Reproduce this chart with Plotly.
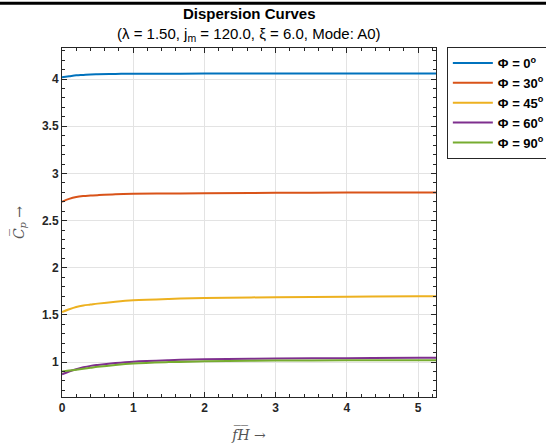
import plotly.graph_objects as go

fh = [0, 0.1, 0.2, 0.3, 0.4, 0.5, 0.75, 1.0, 1.5, 2.0, 3.0, 4.0, 5.0, 5.25]
cp_0 = [4.02, 4.03, 4.04, 4.045, 4.05, 4.052, 4.055, 4.057, 4.058, 4.059, 4.06, 4.06, 4.06, 4.06]
cp_30 = [2.70, 2.73, 2.75, 2.76, 2.765, 2.77, 2.78, 2.785, 2.788, 2.79, 2.795, 2.797, 2.798, 2.798]
cp_45 = [1.53, 1.56, 1.585, 1.60, 1.61, 1.62, 1.64, 1.655, 1.67, 1.68, 1.688, 1.693, 1.697, 1.698]
cp_60 = [0.87, 0.90, 0.925, 0.945, 0.96, 0.97, 0.99, 1.005, 1.02, 1.03, 1.038, 1.042, 1.045, 1.046]
cp_90 = [0.90, 0.91, 0.92, 0.93, 0.94, 0.95, 0.97, 0.985, 1.0, 1.01, 1.016, 1.019, 1.02, 1.02]
names = ["Φ = 0<sup>o</sup>", "Φ = 30<sup>o</sup>", "Φ = 45<sup>o</sup>", "Φ = 60<sup>o</sup>", "Φ = 90<sup>o</sup>"]
series = [cp_0, cp_30, cp_45, cp_60, cp_90]
colors = ["#0072BD", "#D95319", "#EDB120", "#7E2F8E", "#77AC30"]

fig = go.Figure()
for n, s, c in zip(names, series, colors):
    fig.add_trace(go.Scatter(x=fh, y=s, mode="lines", name=n,
                             line=dict(color=c, width=2, shape="spline")))

font = "Liberation Sans, Arial, sans-serif"
axis_common = dict(
    showline=True, linecolor="#262626", linewidth=1, mirror="allticks",
    ticks="inside", ticklen=5, tickcolor="#262626",
    showgrid=True, gridcolor="#E3E3E3", gridwidth=1, zeroline=False,
    tickfont=dict(family=font, size=12, color="#262626", weight="bold"),
)

fig.update_layout(
    width=546, height=443,
    margin=dict(l=62, r=110, t=48, b=46, autoexpand=False),
    paper_bgcolor="white", plot_bgcolor="white",
    xaxis=dict(range=[0, 5.25], dtick=1, minor=dict(dtick=0.2, ticks="inside", ticklen=3, tickcolor="#262626"),
               title=dict(text="<i>f̅H̅</i> →", font=dict(family="DejaVu Serif, serif", size=14, color="#555"), standoff=16),
               **axis_common),
    yaxis=dict(range=[0.63, 4.33], dtick=0.5, minor=dict(dtick=0.1, ticks="inside", ticklen=3, tickcolor="#262626"),
               title=dict(text="<i>C̅</i><sub><i>p</i></sub> →", font=dict(family="DejaVu Serif, serif", size=14, color="#555"), standoff=14),
               **axis_common),
    legend=dict(x=1.029, y=1.003, xanchor="left", yanchor="top",
                bordercolor="#262626", borderwidth=1, bgcolor="white",
                font=dict(family=font, size=13, color="black", weight="bold"),
                itemwidth=40, tracegroupgap=0),
    showlegend=True,
)
fig.add_annotation(text="<b>Dispersion Curves</b>", xref="paper", yref="paper",
                   x=0.5, y=(397 - 14) / 349, showarrow=False, yanchor="middle",
                   font=dict(family=font, size=15, color="black"))
fig.add_annotation(text="(λ = 1.50, j<sub>m</sub> = 120.0, ξ = 6.0, Mode: A0)", xref="paper", yref="paper",
                   x=0.5, y=(397 - 34) / 349, showarrow=False, yanchor="middle",
                   font=dict(family=font, size=15, color="black"))
fig.add_shape(type="line", xref="paper", yref="paper", x0=-0.2, x1=1.35, y0=1.128, y1=1.128,
              line=dict(color="black", width=3))

fig.write_html("out.html")
